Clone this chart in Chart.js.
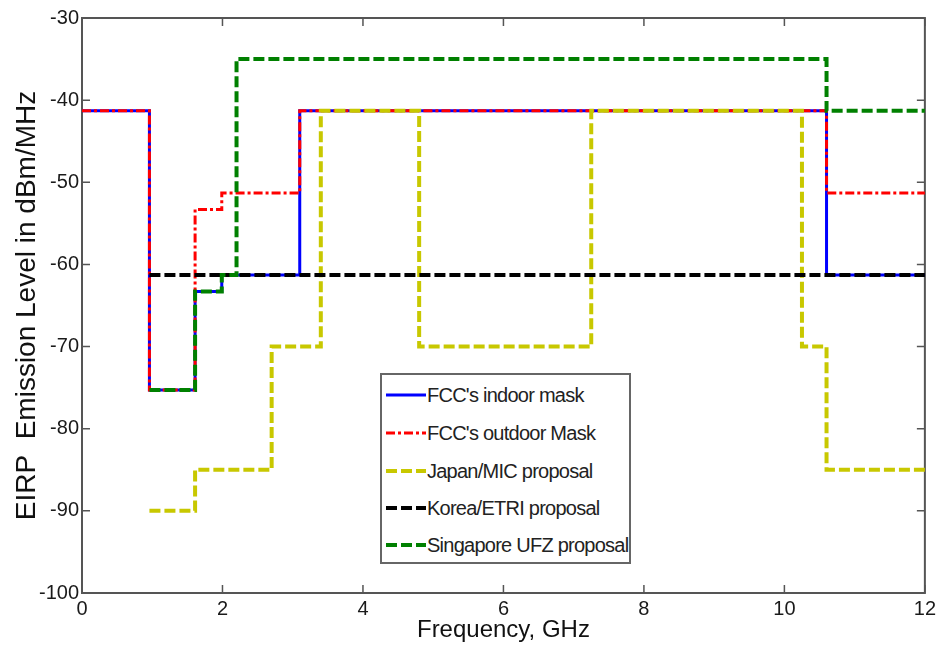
<!DOCTYPE html>
<html>
<head>
<meta charset="utf-8">
<script src="https://cdn.jsdelivr.net/npm/chart.js@4/dist/chart.umd.min.js"></script>
<style>
  html, body { margin: 0; padding: 0; background: #fff; }
  #wrap { position: relative; width: 940px; height: 650px; }
  #legend {
    position: absolute; left: 380px; top: 373px; width: 247px; height: 187px;
    border: 2px solid #666; background: #fff;
    font-family: 'Liberation Sans Narrow', 'Liberation Sans', Arial, sans-serif;
    font-size: 20px; color: #222; letter-spacing: -0.75px;
  }
  .row { position: absolute; left: 4px; height: 26px; display: flex; align-items: center; white-space: nowrap; }
  .row svg { width: 40px; height: 8px; margin-right: 1px; flex: none; }
</style>
</head>
<body>
<div id="wrap">
  <canvas id="c" width="940" height="650"></canvas>
  <div id="legend"></div>
</div>
<script>
// ---- data (GHz, dBm/MHz) ----
const seriesNames = ["FCC's indoor mask", "FCC's outdoor Mask", "Japan/MIC proposal", "Korea/ETRI proposal", "Singapore UFZ proposal"];
const fccIndoorX  = [0, 0.96, 1.61, 1.99, 3.1, 10.6, 12];
const fccIndoorY  = [-41.3, -75.3, -63.3, -61.3, -41.3, -61.3, -61.3];
const fccOutdoorX = [0, 0.96, 1.61, 1.99, 3.1, 10.6, 12];
const fccOutdoorY = [-41.3, -75.3, -53.3, -51.3, -41.3, -51.3, -51.3];
const japanX      = [0.96, 1.61, 2.7, 3.4, 4.8, 7.25, 10.25, 10.6, 12];
const japanY      = [-90, -85, -70, -41.3, -70, -41.3, -70, -85, -85];
const koreaX      = [0.96, 12];
const koreaY      = [-61.3, -61.3];
const singaporeX  = [0.96, 1.61, 1.99, 2.2, 10.6, 12];
const singaporeY  = [-75.3, -63.3, -61.3, -35, -41.3, -41.3];
const xTickValues = [0, 2, 4, 6, 8, 10, 12];
const yTickValues = [-100, -90, -80, -70, -60, -50, -40, -30];

const pts = (xs, ys) => xs.map((x, i) => ({ x: x, y: ys[i] }));

const styles = [
  { color: '#0000ff', width: 3, dash: [], order: 5 },
  { color: '#ff0000', width: 3, dash: [9, 3, 3, 3], order: 4 },
  { color: '#c8c800', width: 4, dash: [11, 4], order: 3 },
  { color: '#000000', width: 4, dash: [11, 4], order: 2 },
  { color: '#008000', width: 4, dash: [11, 4], order: 1 }
];
const seriesData = [
  pts(fccIndoorX, fccIndoorY),
  pts(fccOutdoorX, fccOutdoorY),
  pts(japanX, japanY),
  pts(koreaX, koreaY),
  pts(singaporeX, singaporeY)
];

const FONT = "'Liberation Sans Narrow', 'Liberation Sans', Arial, sans-serif";

const frameTicks = {
  id: 'frameTicks',
  beforeDatasetsDraw(chart) {
    const { ctx, chartArea: a, scales } = chart;
    ctx.save();
    ctx.strokeStyle = '#555';
    ctx.lineWidth = 2;
    ctx.strokeRect(a.left, a.top, a.right - a.left, a.bottom - a.top);
    ctx.lineWidth = 1.5;
    const L = 8;
    ctx.beginPath();
    scales.x.ticks.forEach(t => {
      const px = scales.x.getPixelForValue(t.value);
      ctx.moveTo(px, a.bottom); ctx.lineTo(px, a.bottom - L);
      ctx.moveTo(px, a.top); ctx.lineTo(px, a.top + L);
    });
    scales.y.ticks.forEach(t => {
      const py = scales.y.getPixelForValue(t.value);
      ctx.moveTo(a.left, py); ctx.lineTo(a.left + L, py);
      ctx.moveTo(a.right, py); ctx.lineTo(a.right - L, py);
    });
    ctx.stroke();
    ctx.restore();
  }
};

new Chart(document.getElementById('c'), {
  type: 'line',
  data: {
    datasets: seriesData.map((d, i) => ({
      label: seriesNames[i],
      data: d,
      borderColor: styles[i].color,
      backgroundColor: styles[i].color,
      borderWidth: styles[i].width,
      borderDash: styles[i].dash,
      borderCapStyle: 'butt',
      borderJoinStyle: 'miter',
      stepped: 'before',
      pointRadius: 0,
      fill: false,
      order: styles[i].order
    }))
  },
  options: {
    responsive: false,
    animation: false,
    events: [],
    layout: { padding: { top: 18, right: 15, left: 0, bottom: 0 } },
    plugins: { legend: { display: false }, tooltip: { enabled: false } },
    scales: {
      x: {
        type: 'linear', min: 0, max: 12,
        afterBuildTicks: s => { s.ticks = xTickValues.map(v => ({ value: v })); },
        afterFit: s => { s.height = 57; },
        grid: { display: false, drawTicks: false },
        border: { display: false },
        ticks: { color: '#1a1a1a', padding: 4, font: { family: FONT, size: 20 }, maxRotation: 0 },
        title: { display: true, text: 'Frequency, GHz', color: '#111', padding: { top: 0, bottom: 5 }, font: { family: FONT, size: 24 } }
      },
      y: {
        type: 'linear', min: -100, max: -30,
        afterBuildTicks: s => { s.ticks = yTickValues.map(v => ({ value: v })); },
        afterFit: s => { s.width = 82; },
        grid: { display: false, drawTicks: false },
        border: { display: false },
        ticks: { color: '#1a1a1a', padding: 3, font: { family: FONT, size: 20 } },
        title: { display: true, text: 'EIRP  Emission Level in dBm/MHz', color: '#111', padding: { top: 10, bottom: 0 }, font: { family: FONT, size: 28 } }
      }
    }
  },
  plugins: [frameTicks]
});

// HTML legend
const leg = document.getElementById('legend');
const rowTops = [7, 45, 83, 120, 157];
seriesNames.forEach((name, i) => {
  const st = styles[i];
  const row = document.createElement('div');
  row.className = 'row';
  row.style.top = rowTops[i] + 'px';
  row.innerHTML = '<svg viewBox="0 0 40 8"><line x1="0" y1="4" x2="40" y2="4" stroke="' + st.color +
    '" stroke-width="' + st.width + '"' + (st.dash.length ? ' stroke-dasharray="' + st.dash.join(',') + '"' : '') +
    '/></svg><span>' + name + '</span>';
  leg.appendChild(row);
});
</script>
</body>
</html>
